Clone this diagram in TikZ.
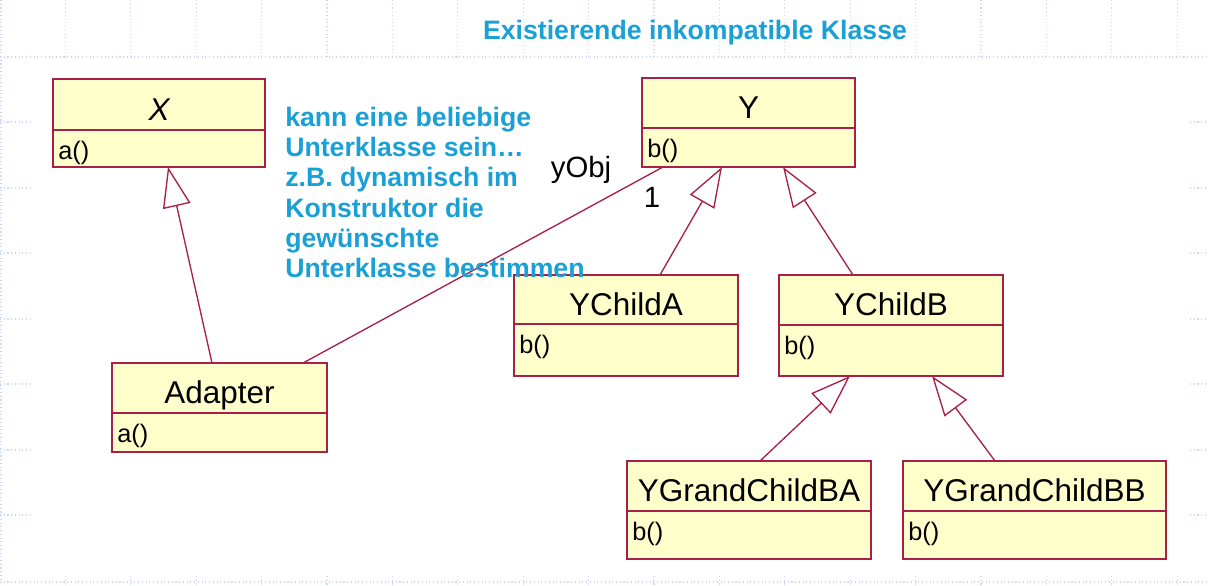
\documentclass[tikz,border=0pt]{standalone}
\usepackage{fontspec}
\setmainfont{Liberation Sans}
\usetikzlibrary{arrows.meta,calc}
\definecolor{umlfill}{RGB}{255,255,204}
\definecolor{umlline}{RGB}{168,32,72}
\definecolor{noteblue}{RGB}{27,160,214}
\definecolor{gridblue}{RGB}{205,215,245}
\tikzset{
 namebox/.style={draw=umlline, fill=umlfill, line width=1.3pt, inner sep=0pt, outer sep=0pt, text height=23.25pt, text depth=0pt, font=\fontsize{23.6}{26}\selectfont},
 methbox/.style={draw=umlline, fill=umlfill, line width=1.3pt, inner sep=0pt, outer sep=0pt},
 methtext/.style={inner sep=0pt, font=\fontsize{19}{21}\selectfont},
 gen/.style={draw=umlline, line width=1pt, -{Triangle[open,length=30pt,width=21pt,fill=white]}},
 assoc/.style={draw=umlline, line width=1pt},
 rolelabel/.style={inner sep=0pt, font=\fontsize{22}{24}\selectfont},
 bluetext/.style={text=noteblue, inner sep=0pt, font=\bfseries\fontsize{20}{22.65}\selectfont},
 gridline/.style={draw=gridblue, dotted, line width=0.8pt},
}
\newcommand\umlclass[8]{%
 \pgfmathsetmacro\umlw{(#4-#2)*0.75}%
 \pgfmathsetmacro\umlh{(#5-#3)*0.75}%
 \pgfmathsetmacro\umlmh{(#6-#5)*0.75}%
 \node[namebox, minimum width=\umlw pt, minimum height=\umlh pt, anchor=north west] (#1) at (#2,#3) {#7};
 \node[methbox, minimum width=\umlw pt, minimum height=\umlmh pt, anchor=north west] (#1m) at (#2,#5) {};
 \node[methtext, anchor=base west] (#1op) at (#2+5,#5+29) {#8};
}
\begin{document}
\begin{tikzpicture}[x=0.75pt,y=-0.75pt]
\useasboundingbox (0,0) rectangle (1208,586);
\fill[white] (0,0) rectangle (1208,586);
% background grid
\foreach \k in {1,...,18} {\draw[gridline] (\k*65.4,0) -- (\k*65.4,57);
  \draw[gridline] (\k*65.4,576) -- (\k*65.4,586);}
\draw[gridline] (0,57) -- (1208,57);
\draw[gridline] (0,582) -- (1208,582);
\draw[gridline] (1,0) -- (1,586);
\foreach \yy in {122,188,253,319,384,450,515} {\draw[gridline] (0,\yy) -- (31,\yy);
  \draw[gridline] (1190,\yy) -- (1208,\yy);}
% classes
\umlclass{X}{53}{79}{265}{130}{167}{\itshape X}{a()}
\umlclass{Y}{642}{78}{855}{128}{167}{Y}{b()}
\umlclass{Adapter}{112}{363}{327}{413}{452}{Adapter}{a()}
\umlclass{YChildA}{514}{275}{738}{324}{376}{YChildA}{b()}
\umlclass{YChildB}{779}{275}{1003}{325}{376}{YChildB}{b()}
\umlclass{BA}{627}{461}{871}{511}{559}{YGrandChildBA}{b()}
\umlclass{BB}{903}{461}{1166}{511}{559}{YGrandChildBB}{b()}
% connectors
\draw[gen] ($(Adapter.north west)+(100,0)$) -- ($(Xm.south west)+(115,0)$);
\draw[assoc] ($(Adapter.north west)+(191,0)$) -- ($(Ym.south west)+(21,0)$);
\draw[gen] ($(YChildA.north west)+(146,0)$) -- ($(Ym.south west)+(80,0)$);
\draw[gen] ($(YChildB.north west)+(74,0)$) -- ($(Ym.south west)+(141,0)$);
\draw[gen] ($(BA.north west)+(133,0)$) -- ($(YChildBm.south west)+(71,0)$);
\draw[gen] ($(BB.north west)+(92,0)$) -- ($(YChildBm.south west)+(153,0)$);
% labels
\node[rolelabel] (yobj) at (581,170) {yObj};
\node[rolelabel] (mult) at (652,197) {1};
% notes
\node[bluetext, anchor=base] (title) at (695,39) {Existierende inkompatible Klasse};
\node[bluetext, anchor=north west, align=left] (note) at (285,107) {kann eine beliebige\\Unterklasse sein…\\z.B. dynamisch im\\Konstruktor die\\gewünschte\\Unterklasse bestimmen};
\end{tikzpicture}
\end{document}
